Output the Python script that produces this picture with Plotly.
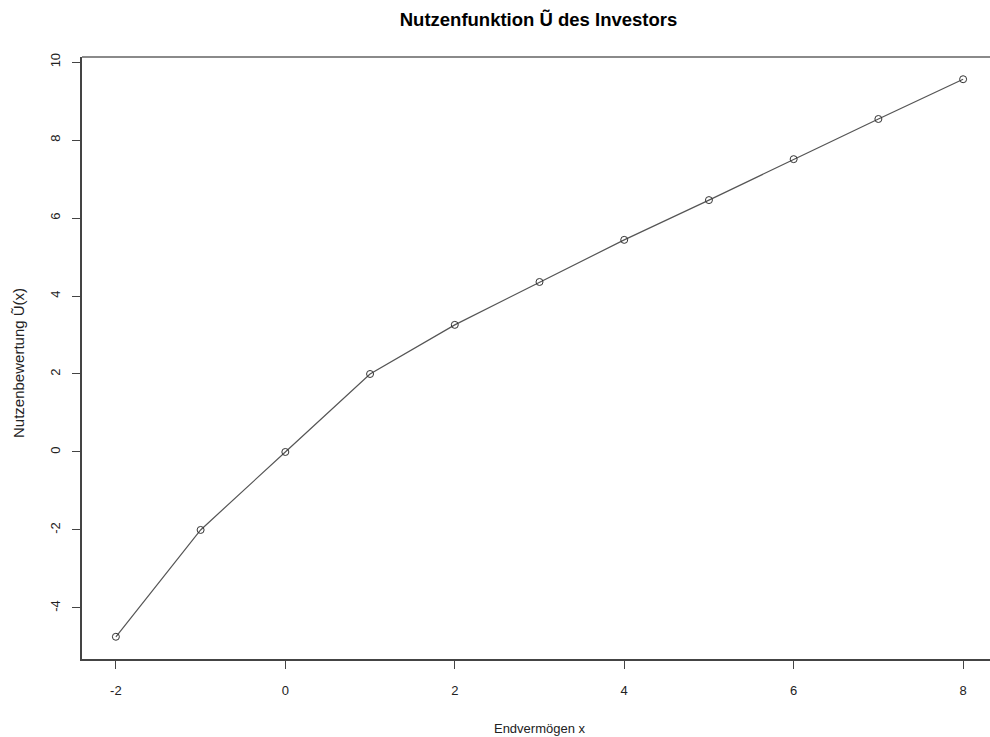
import plotly.graph_objects as go

x_vals = [-2, -1, 0, 1, 2, 3, 4, 5, 6, 7, 8]
u_vals = [-4.74, -2.0, 0.0, 2.0, 3.26, 4.36, 5.44, 6.46, 7.51, 8.54, 9.56]
x_ticks = [-2, 0, 2, 4, 6, 8]
y_ticks = [-4, -2, 0, 2, 4, 6, 8, 10]

FONT = "Liberation Sans, Arial, sans-serif"
W, H = 1000, 737
L, R, T, B = 82, 3, 57, 78
plot_w = W - L - R
plot_h = H - T - B

fig = go.Figure()
fig.add_trace(go.Scatter(
    x=x_vals, y=u_vals, mode="lines+markers",
    line=dict(color="#555555", width=1.2),
    marker=dict(symbol="circle-open", size=7, color="#333333", line=dict(width=1)),
    showlegend=False, hoverinfo="skip",
))

fig.update_layout(
    width=W, height=H,
    margin=dict(l=L, r=R, t=T, b=B),
    paper_bgcolor="white", plot_bgcolor="white",
    font=dict(family=FONT, size=13, color="#222222"),
    title=dict(text="<b>Nutzenfunktion Ũ des Investors</b>", x=538.5/W, xref="container",
               xanchor="center", y=1-19.5/H, yanchor="middle",
               font=dict(family=FONT, size=18.5, color="black")),
    shapes=[dict(type="line", xref="paper", yref="paper", x0=0, x1=1, y0=1, y1=1,
                 line=dict(color="#8a8a8a", width=2))],
    annotations=[dict(text="Nutzenbewertung Ũ(x)", textangle=-90, xref="paper", yref="paper",
                      x=(18 - L) / plot_w, y=(T + plot_h - 363) / plot_h,
                      xanchor="center", yanchor="middle", showarrow=False,
                      font=dict(family=FONT, size=15, color="#222222"))],
)
fig.update_xaxes(
    range=[-2.4, 8.4], tickvals=x_ticks, ticktext=[str(v) for v in x_ticks],
    showgrid=False, zeroline=False,
    showline=True, linecolor="#444444", linewidth=1.5, mirror=False,
    ticks="outside", ticklen=8, tickcolor="#444444", ticklabelstandoff=11,
    title=dict(text="Endvermögen x", standoff=27, font=dict(size=13)),
)
fig.update_yaxes(
    range=[-5.31, 10.13], tickvals=y_ticks, ticktext=[str(v) for v in y_ticks],
    showgrid=False, zeroline=False,
    showline=True, linecolor="#444444", linewidth=1.5, mirror=False,
    ticks="outside", ticklen=8, tickcolor="#444444", tickangle=-90, ticklabelstandoff=7,
)

fig.write_html("out.html", config={"displayModeBar": False},
               post_script="document.body.style.margin='0';document.body.style.overflow='hidden';")
